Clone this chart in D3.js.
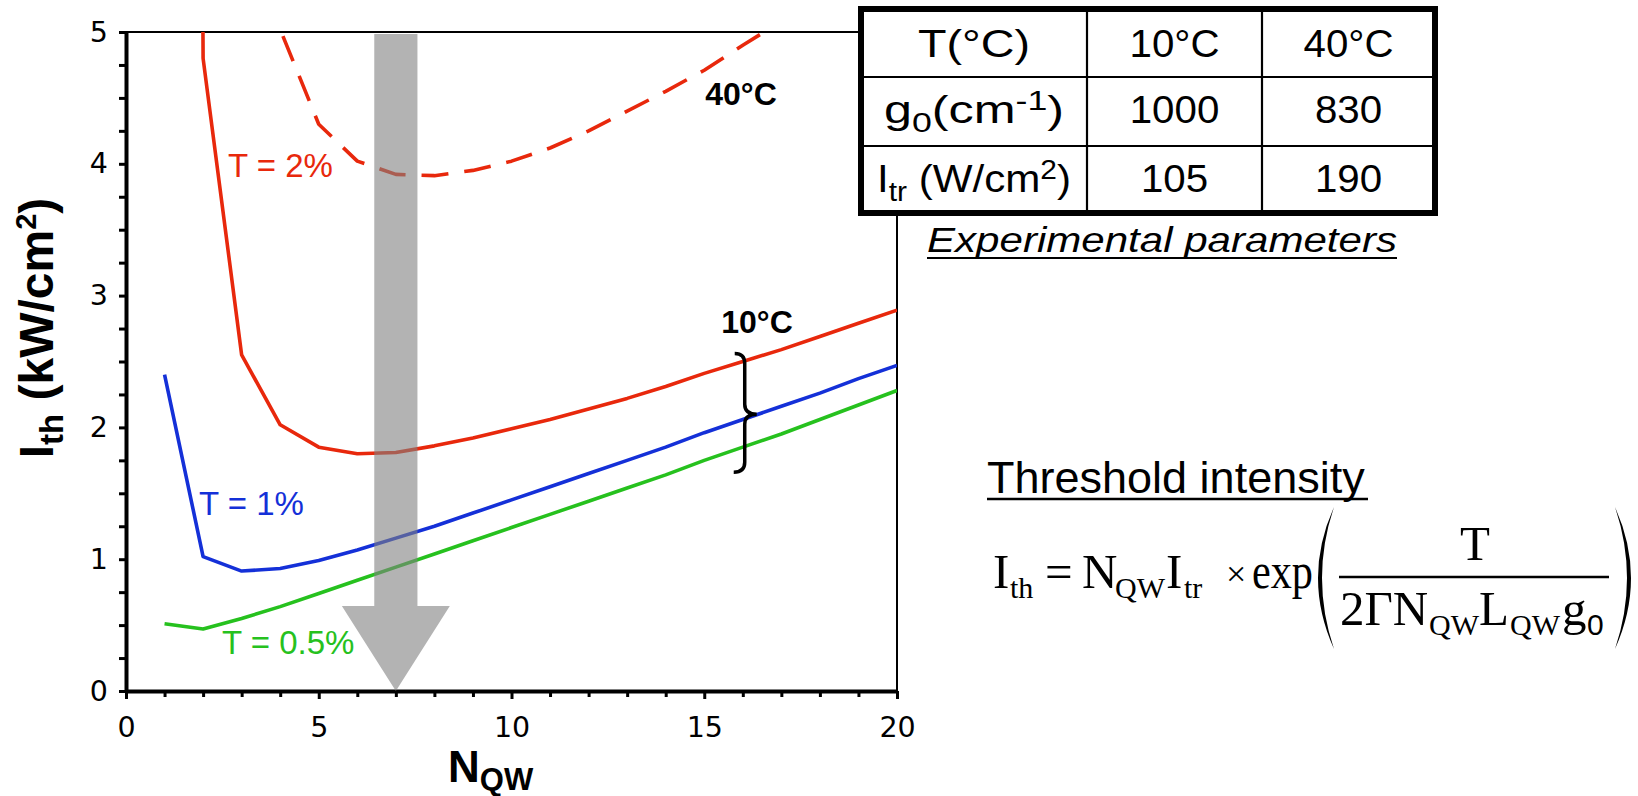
<!DOCTYPE html>
<html><head><meta charset="utf-8">
<script src="https://cdn.jsdelivr.net/npm/d3@7"></script>
<style>body{margin:0;background:#fff}svg{display:block}</style>
</head><body>
<svg id="c" width="1638" height="796"></svg>
<script>
// ---------------- data ----------------
const nqw = [1,2,3,4,5,6,7,8,9,10,11,12,13,14,15,16,17,18,19,20];
const red10T2 = [60,4.80,2.55,2.02,1.85,1.80,1.81,1.86,1.92,1.99,2.06,2.14,2.22,2.31,2.41,2.50,2.59,2.69,2.79,2.89];
const blue10T1 = [2.40,1.02,0.91,0.93,0.99,1.07,1.16,1.25,1.35,1.45,1.55,1.65,1.75,1.85,1.96,2.06,2.16,2.26,2.37,2.47];
const green10T05 = [0.51,0.47,0.55,0.64,0.74,0.84,0.94,1.04,1.14,1.24,1.34,1.44,1.54,1.64,1.75,1.85,1.95,2.06,2.17,2.28];
const nqw40 = [3,4,5,6,7,8,9,10,11,12,13,14,15,16,17];
const red40T2 = [6.9,5.02,4.30,4.02,3.92,3.91,3.95,4.02,4.12,4.25,4.40,4.55,4.71,4.90,5.08];
const xTickLabels = [0,5,10,15,20];
const yTickLabels = [0,1,2,3,4,5];
const tableCols = ["T(°C)","10°C","40°C"];
const tableG0 = ["1000","830"];
const tableItr = ["105","190"];

// ---------------- setup ----------------
const svg = d3.select("#c");
const x = d3.scaleLinear([0,20],[126,897]);
const y = d3.scaleLinear([0,5],[691,32]);
const RED="#e8280c", BLUE="#1430d8", GREEN="#26c11e";
const SANS="'Liberation Sans',Arial,sans-serif", SERIF="'Liberation Serif','Times New Roman',serif";

svg.append("defs").append("clipPath").attr("id","plot")
  .append("rect").attr("x",x(0)).attr("y",y(5)).attr("width",x(20)-x(0)).attr("height",y(0)-y(5));

// frame (top & right thin)
svg.append("line").attr("x1",x(0)).attr("x2",x(20)).attr("y1",y(5)).attr("y2",y(5)).attr("stroke","#000").attr("stroke-width",2);
svg.append("line").attr("x1",x(20)).attr("x2",x(20)).attr("y1",y(5)).attr("y2",y(0)).attr("stroke","#000").attr("stroke-width",2);

// axes
const yAxis = d3.axisLeft(y).tickValues(d3.range(0,5.001,0.25)).tickSize(7).tickSizeOuter(0).tickPadding(11)
  .tickFormat(d => yTickLabels.includes(d) ? d : "");
const gy = svg.append("g").attr("transform",`translate(${x(0)},0)`).call(yAxis);
const xAxis = d3.axisBottom(x).tickValues(d3.range(0,21,1)).tickSize(6).tickSizeOuter(0).tickPadding(20)
  .tickFormat(d => xTickLabels.includes(d) ? d : "");
const gx = svg.append("g").attr("transform",`translate(0,${y(0)})`).call(xAxis);
gx.selectAll(".tick line").filter(d=>d%5===0).attr("y2",8);
[gx,gy].forEach(g=>{
  g.select(".domain").attr("stroke","#000").attr("stroke-width",4);
  g.selectAll(".tick line").attr("stroke","#000").attr("stroke-width",3);
  g.selectAll(".tick text").attr("fill","#000").style("font-family","'DejaVu Sans'").style("font-size","28.5px");
});

// lines
const line = d3.line().x(d=>x(d[0])).y(d=>y(d[1]));
const gl = svg.append("g").attr("clip-path","url(#plot)");
const series = [
  {v:d3.zip(nqw,green10T05), c:GREEN},
  {v:d3.zip(nqw,blue10T1), c:BLUE},
  {v:d3.zip(nqw,red10T2), c:RED},
  {v:d3.zip(nqw40,red40T2), c:RED, dash:"27,16"}
];
series.forEach(s=>{
  gl.append("path").attr("d",line(s.v)).attr("fill","none").attr("stroke",s.c)
    .attr("stroke-width",3.6).attr("stroke-linejoin","round").attr("stroke-dasharray",s.dash||null);
});

// big gray arrow at N=7
const ax=7, sw=0.56, hw=1.40, hb=0.645;
const arrowPts=[[ax-sw,4.985],[ax+sw,4.985],[ax+sw,hb],[ax+hw,hb],[ax,0],[ax-hw,hb],[ax-sw,hb]];
svg.append("path").attr("d","M"+arrowPts.map(p=>[x(p[0]),y(p[1])].join(",")).join("L")+"Z")
  .attr("fill","#808080").attr("fill-opacity",0.6);

// curve labels
const lab=(t,xx,yy,c,opt={})=>svg.append("text").attr("x",xx).attr("y",yy).attr("fill",c)
  .attr("text-anchor",opt.anchor||"start").style("font-family",SANS)
  .style("font-size",(opt.size||33)+"px").style("font-weight",opt.bold?"bold":"normal").text(t);
lab("T = 2%",228,177,RED);
lab("T = 1%",199,515,BLUE);
lab("T = 0.5%",222,654,GREEN);
lab("40°C",741,105,"#000",{anchor:"middle",bold:true,size:32});
lab("10°C",757,333,"#000",{anchor:"middle",bold:true,size:32});

// brace at N≈16
const bx=x(16.05), bt=y(2.56), bm=y(2.10), bb=y(1.66);
svg.append("path").attr("d",
  `M${bx-10},${bt} Q${bx},${bt} ${bx},${bt+10} L${bx},${bm-10} Q${bx},${bm} ${bx+12},${bm} Q${bx},${bm} ${bx},${bm+10} L${bx},${bb-10} Q${bx},${bb} ${bx-11},${bb}`)
  .attr("fill","none").attr("stroke","#000").attr("stroke-width",3.5);

// axis titles
const yt = svg.append("text").attr("transform","translate(53,328) rotate(-90)").attr("text-anchor","middle")
  .style("font-family",SANS).style("font-weight","bold").style("font-size","48px");
yt.append("tspan").text("I");
yt.append("tspan").attr("dy",10).style("font-size","33px").text("th");
yt.append("tspan").attr("dy",-10).text(" (kW/cm");
yt.append("tspan").attr("dy",-17).style("font-size","29px").text("2");
yt.append("tspan").attr("dy",17).text(")");
const xt = svg.append("text").attr("x",448).attr("y",782)
  .style("font-family",SANS).style("font-weight","bold").style("font-size","44px");
xt.append("tspan").text("N");
xt.append("tspan").attr("dy",8).style("font-size","31px").text("QW");

// ---------------- table ----------------
const tx0=861, tx1=1087, tx2=1262, tx3=1435, ty0=9, ty1=77, ty2=146, ty3=213;
const tg = svg.append("g");
tg.append("rect").attr("x",tx0).attr("y",ty0).attr("width",tx3-tx0).attr("height",ty3-ty0)
  .attr("fill","#fff").attr("stroke","#000").attr("stroke-width",6);
[tx1,tx2].forEach(v=>tg.append("line").attr("x1",v).attr("x2",v).attr("y1",ty0).attr("y2",ty3).attr("stroke","#000").attr("stroke-width",2.2));
[ty1,ty2].forEach(v=>tg.append("line").attr("x1",tx0).attr("x2",tx3).attr("y1",v).attr("y2",v).attr("stroke","#000").attr("stroke-width",2.2));
const colC=[(tx0+tx1)/2,(tx1+tx2)/2,(tx2+tx3)/2];
const rowB=[57,123,192];
const cell=(cx,by)=>tg.append("text").attr("transform",`translate(${cx},${by}) scale(1.06,1)`).attr("text-anchor","middle")
  .style("font-family",SANS).style("font-size","38px").attr("fill","#000");
const cell0=(by,L)=>tg.append("text").attr("x",colC[0]-L/2).attr("y",by).attr("textLength",L).attr("lengthAdjust","spacingAndGlyphs")
  .style("font-family",SANS).style("font-size","38px").attr("fill","#000");
cell0(rowB[0],112).text(tableCols[0]);
tableCols.slice(1).forEach((t,i)=>cell(colC[i+1],rowB[0]).text(t));
tableG0.forEach((t,i)=>cell(colC[i+1],rowB[1]).text(t));
tableItr.forEach((t,i)=>cell(colC[i+1],rowB[2]).text(t));
const g0 = cell0(rowB[1],180);
g0.append("tspan").text("g");
g0.append("tspan").attr("dy",9).style("font-size","27px").text("0");
g0.append("tspan").attr("dy",-9).text("(cm");
g0.append("tspan").attr("dy",-13).style("font-size","27px").text("-1");
g0.append("tspan").attr("dy",13).text(")");
const itr = cell0(rowB[2],194);
itr.append("tspan").text("I");
itr.append("tspan").attr("dy",9).style("font-size","27px").text("tr");
itr.append("tspan").attr("dy",-9).text(" (W/cm");
itr.append("tspan").attr("dy",-13).style("font-size","27px").text("2");
itr.append("tspan").attr("dy",13).text(")");
svg.append("text").attr("x",927).attr("y",252).attr("textLength",470).attr("lengthAdjust","spacingAndGlyphs")
  .style("font-family",SANS).style("font-style","italic").style("font-size","35px").text("Experimental parameters");
svg.append("line").attr("x1",927).attr("x2",1397).attr("y1",258).attr("y2",258).attr("stroke","#000").attr("stroke-width",2.2);

// ---------------- formula ----------------
svg.append("text").attr("x",987).attr("y",493).style("font-family",SANS).style("font-size","45px").text("Threshold intensity");
svg.append("line").attr("x1",987).attr("x2",1368).attr("y1",499).attr("y2",499).attr("stroke","#000").attr("stroke-width",2.5);
const ft=(t,xx,yy,s,fam,L)=>{const e=svg.append("text").attr("x",xx).attr("y",yy)
  .style("font-family",fam||SERIF).style("font-size",s+"px").text(t);
  if(L) e.attr("textLength",L).attr("lengthAdjust","spacingAndGlyphs"); return e;};
ft("I",993,588,49); ft("th",1010,598,30);
ft("=",1045,588,49);
ft("N",1082,588,49); ft("QW",1115,598,30);
ft("I",1166,588,49); ft("tr",1184,598,30);
ft("×",1226,586,36);
ft("exp",1252,588,50,null,61);
svg.append("text").attr("x",1475).attr("y",560).attr("text-anchor","middle")
  .style("font-family",SERIF).style("font-size","49px").text("T");
svg.append("line").attr("x1",1339).attr("x2",1609).attr("y1",577).attr("y2",577).attr("stroke","#000").attr("stroke-width",2.5);
ft("2ΓN",1340,625,49); ft("QW",1429,635,30);
ft("L",1479,625,49); ft("QW",1510,635,30); ft("g",1562,625,49); ft("0",1587,635,30,SANS);
svg.append("path").attr("d","M1334,507 Q1302,578 1334,649 Q1310,578 1334,507 Z").attr("fill","#000");
svg.append("path").attr("d","M1615,507 Q1647,578 1615,649 Q1639,578 1615,507 Z").attr("fill","#000");
</script>
</body></html>
